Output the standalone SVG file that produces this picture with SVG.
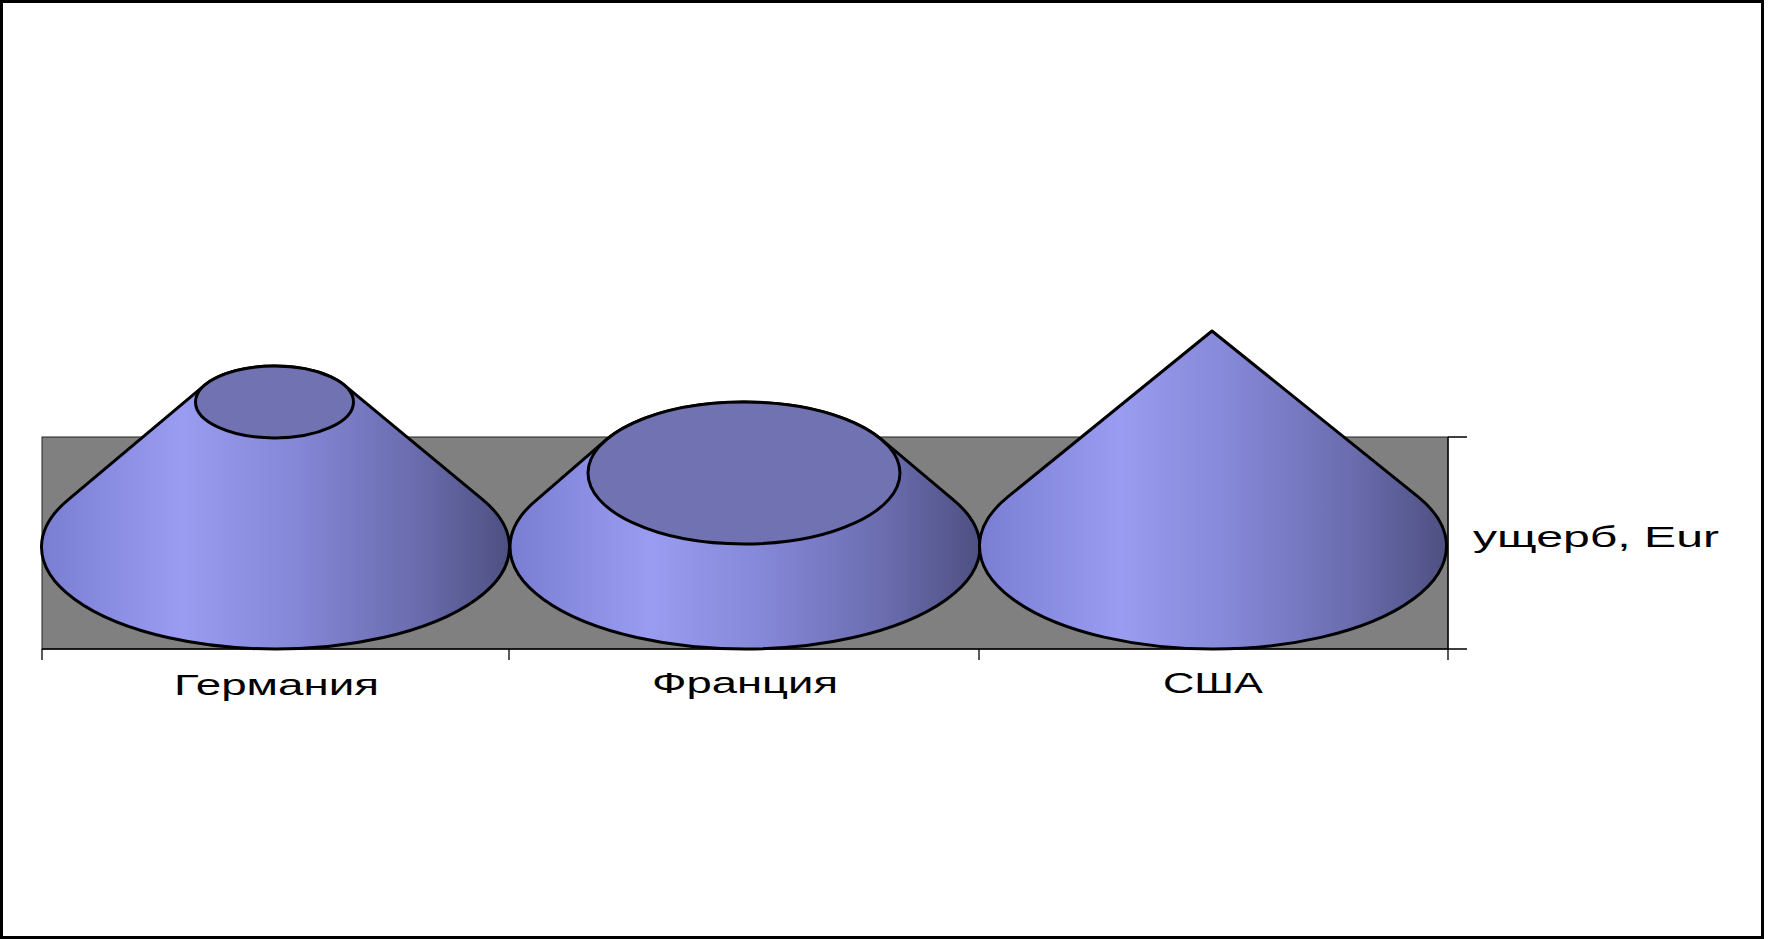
<svg xmlns="http://www.w3.org/2000/svg" width="1769" height="939" viewBox="0 0 1769 939">
<defs>
<linearGradient id="cone" x1="0" y1="0" x2="1" y2="0">
<stop offset="0" stop-color="#7a7ed2"/>
<stop offset="0.3" stop-color="#999cf0"/>
<stop offset="0.55" stop-color="#8486d6"/>
<stop offset="0.8" stop-color="#6a6cae"/>
<stop offset="1" stop-color="#4e5082"/>
</linearGradient>
</defs>
<style>
.body{fill:url(#cone);stroke:#000;stroke-width:3;stroke-linejoin:round}
.cap{fill:#7172b2;stroke:#000;stroke-width:3}
.ax{stroke:#000;stroke-width:1.3;fill:none}
.lbl{font-family:"Liberation Sans",Arial,sans-serif;font-size:29px;fill:#000}
</style>
<rect x="1.5" y="1.5" width="1761" height="936" fill="#fff" stroke="#000" stroke-width="3"/>
<g id="plot">
<rect x="42" y="437" width="1406" height="212" fill="#808080" stroke="#222" stroke-width="1"/>
</g>
<g id="axes">
<path class="ax" d="M42,649 H1448 M42,649 V660 M509,649 V660 M979,649 V660 M1448,437 V660 M1448,437 H1467 M1448,649 H1467"/>
</g>
<g id="germany">
<path class="body" d="M204.7,385.1 L68.9,499.1 A234,102 0 1,0 482.1,499.1 L344.3,385.1 A79,36 0 0,0 204.7,385.1 Z"/>
<ellipse class="cap" cx="274.5" cy="402" rx="79" ry="36"/>
</g>
<g id="france">
<path class="body" d="M606.3,439.6 L537.5,499.1 A235,102 0 1,0 952.5,499.1 L881.7,439.6 A156,71 0 0,0 606.3,439.6 Z"/>
<ellipse class="cap" cx="744" cy="473" rx="156" ry="71"/>
</g>
<g id="usa">
<path class="body" d="M1212,331 L1007.8,496.9 A233.5,103 0 1,0 1418.2,496.9 Z"/>
</g>
<g id="labels">
<text class="lbl" x="174" y="695" textLength="205" lengthAdjust="spacingAndGlyphs">Германия</text>
<text class="lbl" x="652" y="693" textLength="186" lengthAdjust="spacingAndGlyphs">Франция</text>
<text class="lbl" x="1163" y="693" textLength="100" lengthAdjust="spacingAndGlyphs">США</text>
<text class="lbl" x="1473" y="547" textLength="246" lengthAdjust="spacingAndGlyphs">ущерб, Eur</text>
</g>
</svg>
